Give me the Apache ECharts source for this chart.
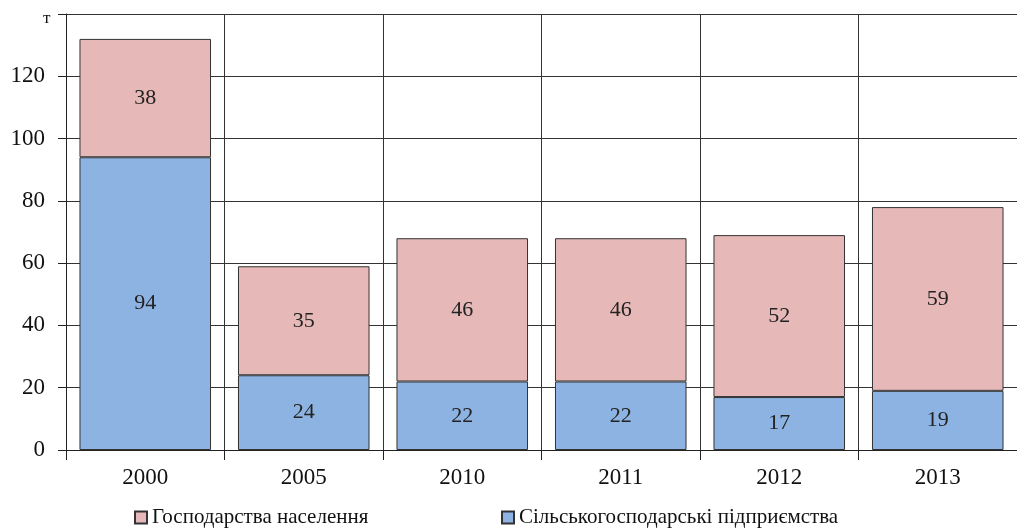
<!DOCTYPE html>
<html><head><meta charset="utf-8">
<script src="https://cdn.jsdelivr.net/npm/echarts@6/dist/echarts.min.js"></script>
<style>html,body{margin:0;padding:0;background:#fff}#c{width:1017px;height:529px}</style>
</head><body><div id="c"></div>
<script>
var categories = ['2000','2005','2010','2011','2012','2013'];
var enterprises = [94,24,22,22,17,19];
var households = [38,35,46,46,52,59];
var yTicks = [0,20,40,60,80,100,120];
var nameHouse = 'Господарства населення';
var nameEnt = 'Сільськогосподарські підприємства';
var font = 'Liberation Serif';
var chart = echarts.init(document.getElementById('c'));
chart.setOption({
  animation:false,
  grid:{left:66, top:14, width:963, height:436},
  xAxis:{type:'category', data:categories,
    axisLine:{lineStyle:{color:'#222',width:1}},
    axisTick:{show:true,length:10,lineStyle:{color:'#222'}},
    axisLabel:{fontFamily:font,fontSize:23,color:'#111',margin:16},
    splitLine:{show:true,lineStyle:{color:'#333',width:1}}},
  yAxis:{type:'value', min:0, max:140, interval:20,
    axisLine:{show:true,lineStyle:{color:'#222'}},
    axisTick:{show:true,length:8,lineStyle:{color:'#222'}},
    axisLabel:{fontFamily:font,fontSize:23,color:'#111',margin:21,
      formatter:function(v){return yTicks.indexOf(v)>=0?String(v):'';}},
    splitLine:{show:true,lineStyle:{color:'#333',width:1}}},
  legend:[
    {data:[nameHouse], left:129, top:502, icon:'rect', itemWidth:12, itemHeight:12, itemGap:4,
     textStyle:{fontFamily:font,fontSize:21,color:'#111'}},
    {data:[nameEnt], left:496, top:502, icon:'rect', itemWidth:12, itemHeight:12, itemGap:4,
     textStyle:{fontFamily:font,fontSize:21,color:'#111'}}
  ],
  graphic:[{type:'text', left:43, top:10, style:{text:'т', font:'17px "Liberation Serif"', fill:'#111'}}],
  series:[
    {name:nameEnt, type:'bar', stack:'s', data:enterprises, barCategoryGap:'17%',
     itemStyle:{color:'#8db3e2', borderColor:'#333', borderWidth:1},
     label:{show:true, position:'inside', fontFamily:font, fontSize:22, color:'#222'}},
    {name:nameHouse, type:'bar', stack:'s', data:households, barCategoryGap:'17%',
     itemStyle:{color:'#e6b9b8', borderColor:'#333', borderWidth:1},
     label:{show:true, position:'inside', fontFamily:font, fontSize:22, color:'#222'}}
  ]
});
</script></body></html>
